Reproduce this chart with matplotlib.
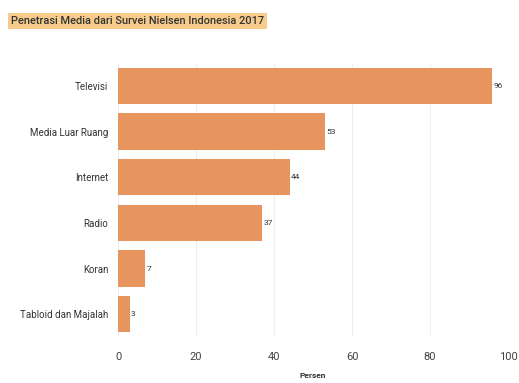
import matplotlib
matplotlib.use("Agg")
import matplotlib.pyplot as plt

categories = ["Televisi", "Media Luar Ruang", "Internet", "Radio", "Koran", "Tabloid dan Majalah"]
values = [96, 53, 44, 37, 7, 3]
xticks = [0, 20, 40, 60, 80, 100]

plt.rcParams['font.family'] = ['Roboto', 'DejaVu Sans']
fig = plt.figure(figsize=(5.19, 3.83), dpi=100)
ax = fig.add_axes([0.2274, 0.12, 0.7514, 0.7155])

color = "#E8945F"
ypos = list(range(len(categories)))
ax.barh(ypos, values, height=0.79, color=color, zorder=2)
for y, v in zip(ypos, values):
    ax.text(v + 0.3, y, str(v), va="center", ha="left", fontsize=6, color="#333333")
ax.set_yticks(ypos)
ax.set_yticklabels(categories, fontsize=7, color="#333333")
ax.invert_yaxis()
ax.set_ylim(5.5, -0.5)
ax.set_xlim(0, 100)
ax.set_xticks(xticks)
ax.set_xticklabels([str(t) for t in xticks], fontsize=8, color="#444444")
ax.xaxis.grid(True, color="#eeeeee", linewidth=0.8, zorder=0)
ax.tick_params(axis="both", length=0, pad=7)
ax.tick_params(axis="x", pad=11)
for s in ax.spines.values():
    s.set_visible(False)
ax.set_xlabel("Persen", fontsize=6, fontweight="bold", color="#333333", labelpad=7)

fig.text(0.021, 0.945, "Penetrasi Media dari Survei Nielsen Indonesia 2017", fontsize=7.9,
         color="#333333", fontweight="medium", va="center", ha="left",
         bbox=dict(boxstyle="square,pad=0.3", facecolor="#F7CC8B", edgecolor="none"))

fig.savefig("out.png", dpi=100)
